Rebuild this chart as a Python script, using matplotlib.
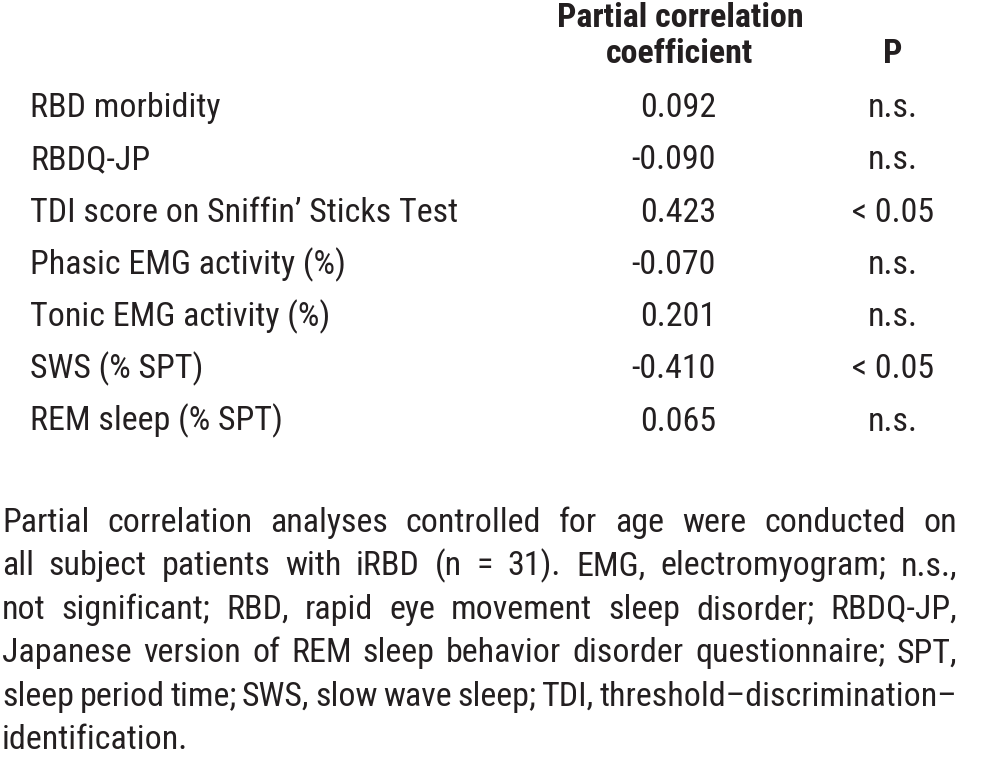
import matplotlib
matplotlib.use("Agg")
import matplotlib.pyplot as plt
from matplotlib import font_manager

# condensed face to match the printed table
names = {f.name for f in font_manager.fontManager.ttflist}
if "Roboto Condensed" in names:
    FONT, fs = "Roboto Condensed", 24.5
else:
    FONT, fs = "Liberation Sans", 22.5

variables = [
    "RBD morbidity",
    "RBDQ-JP",
    "TDI score on Sniffin\u2019 Sticks Test",
    "Phasic EMG activity (%)",
    "Tonic EMG activity (%)",
    "SWS (% SPT)",
    "REM sleep (% SPT)",
]
coefficients = ["0.092", "-0.090", "0.423", "-0.070", "0.201", "-0.410", "0.065"]
p_values = ["n.s.", "n.s.", "< 0.05", "n.s.", "n.s.", "< 0.05", "n.s."]

footnote_lines = [
    "Partial correlation analyses controlled for age were conducted on",
    "all subject patients with iRBD (n = 31). EMG, electromyogram; n.s.,",
    "not significant; RBD, rapid eye movement sleep disorder; RBDQ-JP,",
    "Japanese version of REM sleep behavior disorder questionnaire; SPT,",
    "sleep period time; SWS, slow wave sleep; TDI, threshold\u2013discrimination\u2013",
    "identification.",
]

W, H = 985, 760
fig = plt.figure(figsize=(W / 100, H / 100), dpi=100)
ax = fig.add_axes([0, 0, 1, 1])
ax.set_xlim(0, W)
ax.set_ylim(H, 0)
ax.axis("off")

col = "#231f20"
kw = dict(va="baseline", fontsize=fs, family=FONT, color=col)

# header
ax.text(680, 27, "Partial correlation", ha="center", fontweight="bold", **kw)
ax.text(680, 63, "coefficient", ha="center", fontweight="bold", **kw)
ax.text(893, 63, "P", ha="center", fontweight="bold", **kw)

row0, step = 117, 52.3
for i, (v, c, p) in enumerate(zip(variables, coefficients, p_values)):
    y = row0 + i * step
    ax.text(30, y, v, ha="left", **kw)
    ax.text(716, y, c, ha="right", **kw)
    ax.text(893, y, p, ha="center", **kw)

# footnote, justified like the printed page
fig.canvas.draw()
rend = fig.canvas.get_renderer()


def width(s):
    t = ax.text(0, 0, s, fontsize=fs, family=FONT)
    bb = t.get_window_extent(rend)
    t.remove()
    return bb.width * (W / fig.bbox.width)


left, right = 2, 957
fy0, fstep = 532, 43.4
for li, line in enumerate(footnote_lines):
    y = fy0 + li * fstep
    words = line.split()
    if li == len(footnote_lines) - 1:
        ax.text(left, y, line, ha="left", **kw)
        continue
    ws = [width(w) for w in words]
    gap = (right - left - sum(ws)) / (len(words) - 1)
    x = left
    for w, wd in zip(words, ws):
        ax.text(x, y, w, ha="left", **kw)
        x += wd + gap

fig.savefig("out.png", dpi=100)
